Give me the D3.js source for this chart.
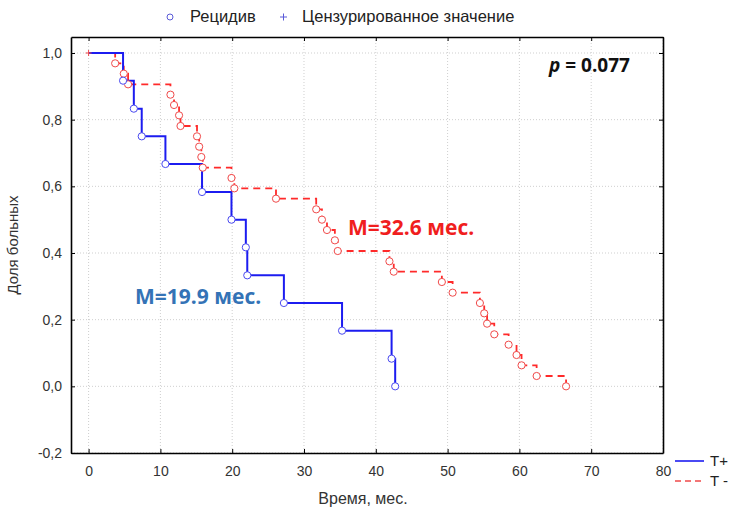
<!DOCTYPE html>
<html><head><meta charset="utf-8">
<script src="https://cdn.jsdelivr.net/npm/d3@7"></script>
<style>body{margin:0;background:#fff}svg{display:block;font-family:"Liberation Sans",Arial,sans-serif}</style>
</head><body><svg id="c" width="733" height="507"></svg>
<script>
const xTicks=[0,10,20,30,40,50,60,70,80];
const yTicks=[-0.2,0,0.2,0.4,0.6,0.8,1.0];
// T+ group (blue): event times and survival after each event
const blueTimes=[0,4.8,6.3,7.4,10.7,15.8,19.9,21.9,22.1,27.2,35.3,42.2,42.7];
const blueSurv=[1,0.917,0.833,0.75,0.667,0.583,0.5,0.417,0.333,0.25,0.167,0.083,0];
// T- group (red)
const redTimes=[0,3.7,4.9,5.5,11.4,11.9,12.6,12.8,15.1,15.4,15.7,15.9,19.9,20.3,26.1,31.7,32.5,33.2,34.3,34.7,41.9,42.5,49.2,50.7,54.5,55.1,55.5,56.5,58.5,59.6,60.3,62.4,66.5];
const redSurv=[1,0.969,0.938,0.906,0.875,0.844,0.813,0.781,0.75,0.719,0.688,0.656,0.625,0.594,0.563,0.531,0.5,0.469,0.438,0.406,0.375,0.344,0.313,0.281,0.25,0.219,0.188,0.156,0.125,0.094,0.063,0.031,0];
const censored=[{t:0,s:1}];

const svg=d3.select("#c");
const L=71,R=663,T=37,B=453;
const x=d3.scaleLinear().domain([-2.45,80]).range([L,R]);
const y=d3.scaleLinear().domain([-0.2,1.048]).range([B,T]);

// grid
const g=svg.append("g");
g.selectAll(".gx").data(xTicks).enter().append("line")
 .attr("x1",d=>x(d)).attr("x2",d=>x(d)).attr("y1",T).attr("y2",B)
 .attr("stroke","#cfcfcf").attr("stroke-dasharray","1,2");
g.selectAll(".gy").data(yTicks).enter().append("line")
 .attr("x1",L).attr("x2",R).attr("y1",d=>y(d)).attr("y2",d=>y(d))
 .attr("stroke","#cfcfcf").attr("stroke-dasharray","1,2");

// axes (ticks inside)
const fmt=d=>d3.format(".1f")(d).replace(".",",").replace("−","-");
const ax=svg.append("g").attr("transform",`translate(0,${B})`).call(d3.axisBottom(x).tickValues(xTicks).tickSizeInner(-4).tickSizeOuter(0).tickPadding(13));
const axT=svg.append("g").attr("transform",`translate(0,${T})`).call(d3.axisTop(x).tickValues(xTicks).tickSizeInner(-4).tickSizeOuter(0).tickFormat(""));
const ay=svg.append("g").attr("transform",`translate(${L},0)`).call(d3.axisLeft(y).tickValues(yTicks).tickSizeInner(-4).tickSizeOuter(0).tickPadding(9).tickFormat(fmt));
const ayR=svg.append("g").attr("transform",`translate(${R},0)`).call(d3.axisRight(y).tickValues(yTicks).tickSizeInner(-4).tickSizeOuter(0).tickFormat(""));
[ax,axT,ay,ayR].forEach(a=>{a.select(".domain").attr("stroke","#000").attr("stroke-width",1.6);a.selectAll(".tick line").attr("stroke","#000");a.selectAll("text").attr("fill","#333").style("font-size","14px").style("font-family","'Liberation Sans',Arial,sans-serif");});

// curves
const line=d3.line().x(d=>x(d[0])).y(d=>y(d[1])).curve(d3.curveStepAfter);
const redData=redTimes.map((t,i)=>[t,redSurv[i]]);
const blueData=blueTimes.map((t,i)=>[t,blueSurv[i]]);
svg.append("path").attr("d",line(redData)).attr("fill","none").attr("stroke","#ff2a2a").attr("stroke-width",1.8).attr("stroke-dasharray","7,5");
svg.append("path").attr("d",line(blueData)).attr("fill","none").attr("stroke","#1c1cf0").attr("stroke-width",2);

svg.selectAll(".rc").data(redData.slice(1)).enter().append("circle")
 .attr("cx",d=>x(d[0])).attr("cy",d=>y(d[1])).attr("r",3.6)
 .attr("fill","#fff").attr("stroke","#f04a4a").attr("stroke-width",1);
svg.selectAll(".bc").data(blueData.slice(1)).enter().append("circle")
 .attr("cx",d=>x(d[0])).attr("cy",d=>y(d[1])).attr("r",3.6)
 .attr("fill","#fff").attr("stroke","#4a4af0").attr("stroke-width",1);
svg.selectAll(".cz").data(censored).enter().append("path")
 .attr("d",d=>`M${x(d.t)-3},${y(d.s)}h6M${x(d.t)},${y(d.s)-3}v6`).attr("stroke","#f04a4a").attr("stroke-width",1);

// annotations
const t1=svg.append("text").attr("x",549).attr("y",72).style("font-size","19px").style("font-weight","bold").attr("fill","#111").style("font-family","'Open Sans',sans-serif");
t1.append("tspan").style("font-style","italic").text("p");
t1.append("tspan").text(" = 0.077");
svg.append("text").attr("x",348).attr("y",235).style("font-size","21px").style("font-weight","bold").attr("fill","#f01e1e").style("font-family","'Open Sans',sans-serif").text("M=32.6 мес.");
svg.append("text").attr("x",135).attr("y",304).style("font-size","21px").style("font-weight","bold").attr("fill","#3473b6").style("font-family","'Open Sans',sans-serif").text("M=19.9 мес.");

// axis titles
svg.append("text").attr("x",363).attr("y",504).attr("text-anchor","middle").style("font-size","16px").attr("fill","#333").text("Время, мес.");
svg.append("text").attr("transform","translate(18,245) rotate(-90)").attr("text-anchor","middle").style("font-size","15px").attr("fill","#333").text("Доля больных");

// top legend
svg.append("circle").attr("cx",170).attr("cy",17).attr("r",3).attr("fill","#fff").attr("stroke","#5a5ad8");
svg.append("text").attr("x",190).attr("y",22).style("font-size","16.5px").attr("fill","#222").text("Рецидив");
svg.append("path").attr("d","M280,17h7M283.5,13.5v7").attr("stroke","#5a5ad8");
svg.append("text").attr("x",302).attr("y",22).style("font-size","16.5px").attr("fill","#222").text("Цензурированное значение");

// bottom-right legend
svg.append("line").attr("x1",675).attr("x2",704).attr("y1",461).attr("y2",461).attr("stroke","#1c1cf0").attr("stroke-width",1.6);
svg.append("text").attr("x",710).attr("y",466).style("font-size","15px").attr("fill","#222").text("T+");
svg.append("line").attr("x1",675).attr("x2",704).attr("y1",481).attr("y2",481).attr("stroke","#f04a4a").attr("stroke-width",1.6).attr("stroke-dasharray","6,4");
svg.append("text").attr("x",710).attr("y",486).style("font-size","15px").attr("fill","#222").text("T -");
</script></body></html>
